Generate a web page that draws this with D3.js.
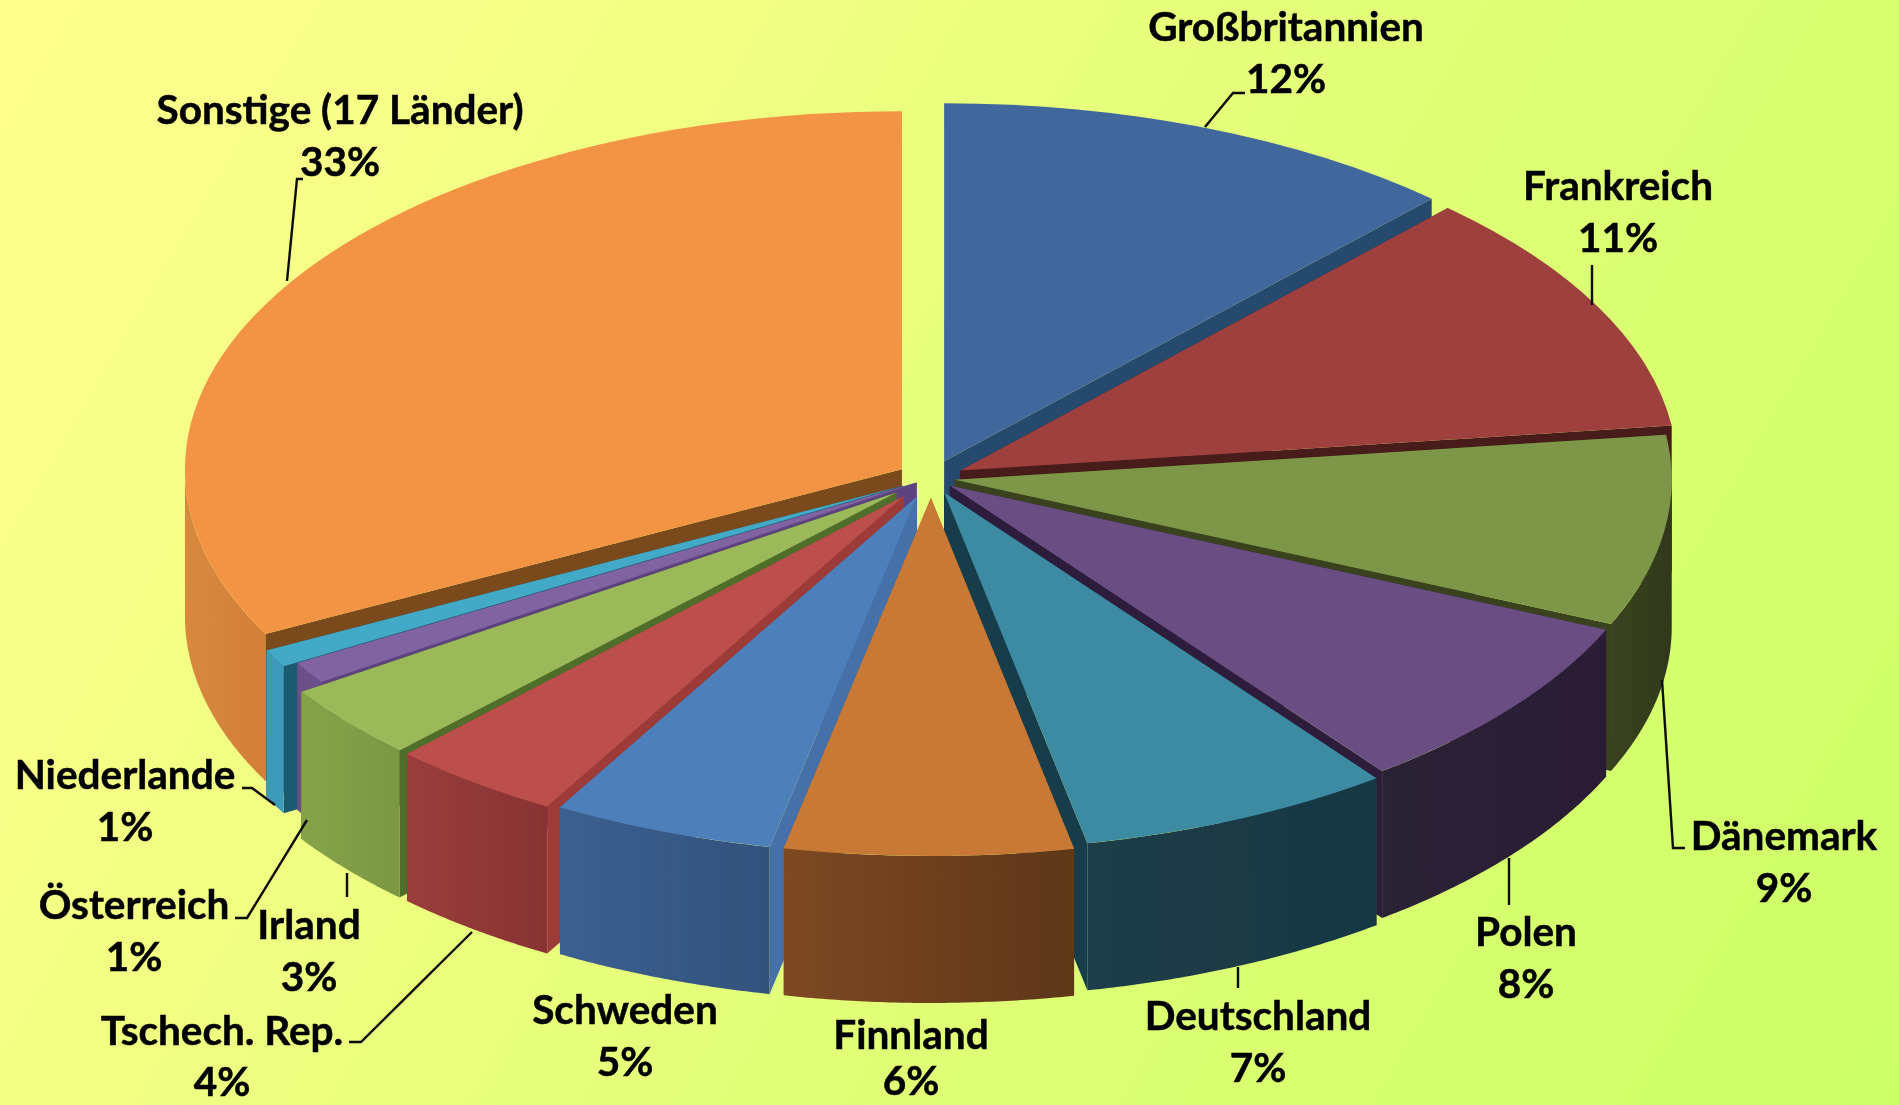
<!DOCTYPE html>
<html><head><meta charset="utf-8">
<script src="https://cdn.jsdelivr.net/npm/d3@7/dist/d3.min.js"></script>
<style>html,body{margin:0;padding:0;background:#e4ff7c}svg{display:block}text{font-family:Lato,Carlito,sans-serif;font-weight:700;fill:#050505;stroke:#050505;stroke-width:0.5px;text-anchor:middle}</style>
</head><body><svg id="c" width="1899" height="1105"></svg>
<script>
const categories=["Großbritannien","Frankreich","Dänemark","Polen","Deutschland","Finnland","Schweden","Tschech. Rep.","Irland","Österreich","Niederlande","Sonstige (17 Länder)"];
const shares=[11.9,11.1,8.6,8.1,7.1,6.49,5.0,3.9,3.4,1.0,0.8,32.61];
const explode=[36,33,24,24,32,40,40,45,45,17,32,34];
const topColors=["#3f689c","#9e3f3e","#7e9646","#6a4e82","#3e8aa3","#c87935","#4d7fbb","#bc4f4c","#9bb958","#8063a0","#42a9c7","#f39445"];
const wallLight=["#3f689c","#9e3f3e","#3a4220","#2c2036","#1c3d48","#7d4823","#3b6090","#9a3d3b","#87a34a","#6a4f88","#3c9ab8","#d8893e"];
const wallDark=["#3f689c","#9e3f3e","#30381c","#2a1f34","#183842","#5e3719","#33527c","#883333","#7c9743","#6a4f88","#3c9ab8","#d27f38"];
const edgeColors=["#26486e","#4a1a1a","#39431e","#2e1e3c","#153c48","#a86428","#4470a8","#9c3a38","#4f6e2c","#5d4280","#1e5a70","#7a4a1e"];

const W=1899,H=1105,RX=717,RY=358,DEPTH=147,CX=931,CY=478;
const xS=d3.scaleLinear().domain([-1,1]).range([-RX,RX]);
const yS=d3.scaleLinear().domain([-1,1]).range([-RY,RY]);
const svg=d3.select("#c");
const defs=svg.append("defs");
const bg=defs.append("linearGradient").attr("id","bg").attr("gradientUnits","userSpaceOnUse")
  .attr("x1",0).attr("y1",0).attr("x2",W).attr("y2",H);
bg.append("stop").attr("offset",0).attr("stop-color","#ffff8e");
bg.append("stop").attr("offset",1).attr("stop-color","#ccff66");
defs.append("filter").attr("id","soft").attr("x","-5%").attr("y","-5%").attr("width","110%").attr("height","110%")
  .append("feGaussianBlur").attr("stdDeviation",0.6);
svg.append("rect").attr("width",W).attr("height",H).attr("fill","url(#bg)");

const pie=d3.pie().sort(null).value(d=>d)(shares);
const slices=pie.map((p,i)=>({i,a0:p.startAngle,a1:p.endAngle,mid:(p.startAngle+p.endAngle)/2,e:explode[i]}));
const px=(a,k=1)=>xS(Math.sin(a)*k);
const py=(a,k=1)=>yS(-Math.cos(a)*k);
const line=d3.line();
slices.forEach(s=>{
  const g=defs.append("linearGradient").attr("id","w"+s.i);
  g.append("stop").attr("offset",0).attr("stop-color",wallLight[s.i]);
  g.append("stop").attr("offset",1).attr("stop-color",wallDark[s.i]);
});
const arcGen=d3.arc().innerRadius(0).outerRadius(RX);
const root=svg.append("g").attr("filter","url(#soft)");
const order=slices.slice().sort((a,b)=>Math.cos(b.mid)-Math.cos(a.mid));
order.forEach(s=>{
  const ox=Math.sin(s.mid)*s.e, oy=-Math.cos(s.mid)*s.e*RY/RX;
  const g=root.append("g").attr("transform",`translate(${CX+ox},${CY+oy})`);
  [s.a0,s.a1].forEach(a=>{
    const q=[[0,0],[px(a),py(a)],[px(a),py(a)+DEPTH],[0,DEPTH]];
    g.append("path").attr("d",line(q)+"Z").attr("fill",edgeColors[s.i]);
  });
  const lo=Math.max(s.a0,Math.PI/2), hi=Math.min(s.a1,3*Math.PI/2);
  if(hi>lo){
    const as=d3.range(0,61).map(k=>lo+(hi-lo)*k/60);
    const top=as.map(a=>[px(a),py(a)]);
    const bot=as.slice().reverse().map(a=>[px(a),py(a)+DEPTH]);
    g.append("path").attr("d",line(top.concat(bot))+"Z").attr("fill",`url(#w${s.i})`);
  }
  g.append("path")
    .attr("d",arcGen({startAngle:s.a0,endAngle:s.a1}))
    .attr("transform",`scale(1,${RY/RX})`)
    .attr("fill",topColors[s.i]);
});

const labelCenters=[[1286,27],[1618,186],[1784,836],[1526,932],[1258,1016],[911,1035],[625,1010],[222,1031],[309,925],[134,905],[125,775],[340,110]];
const percentGap=[52,52,52,52,52,46,52,51,52,52,52,52];
const leaders=[
 [[1205,127],[1233,93],[1245,93]],
 [[1592,265],[1592,305]],
 [[1662,680],[1673,848],[1685,848]],
 [[1509,858],[1509,905]],
 [[1238,967],[1238,988]],
 [],[],
 [[472,932],[361,1042],[349,1042]],
 [[347,873],[347,897]],
 [[307,820],[247,918],[235,918]],
 [[275,805],[252,788],[242,788]],
 [[287,281],[297,179],[303,179]]
];
const ann=svg.append("g").attr("filter","url(#soft)");
leaders.forEach(l=>{ if(l.length) ann.append("path").attr("d",line(l)).attr("fill","none").attr("stroke","#0a0a0a").attr("stroke-width",2.4); });
categories.forEach((c,i)=>{
  const [x,y]=labelCenters[i];
  ann.append("text").attr("x",x).attr("y",y+14).attr("font-size",40.5).text(c);
  ann.append("text").attr("x",x).attr("y",y+14+percentGap[i]).attr("font-size",40.5).text(Math.round(shares[i])+"%");
});
</script></body></html>
